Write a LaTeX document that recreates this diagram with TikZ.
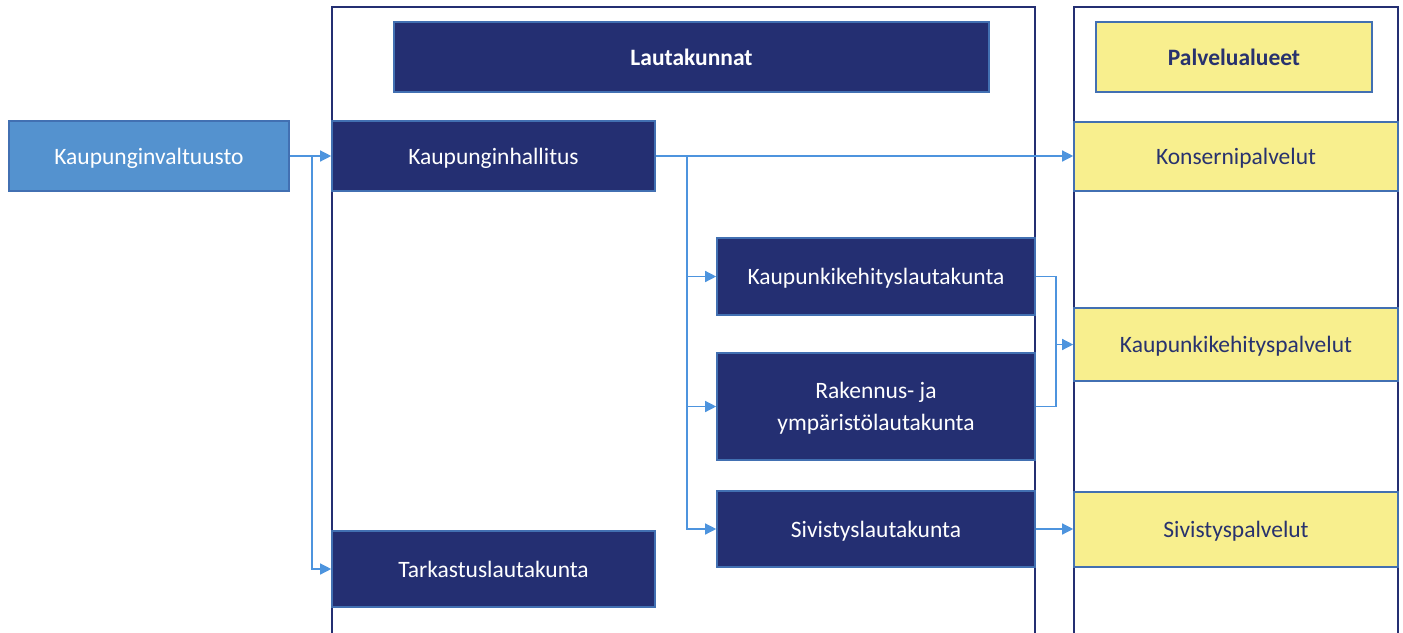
\documentclass[tikz,border=0pt]{standalone}
\usepackage{fontspec}
\setmainfont{Carlito}
\usetikzlibrary{arrows.meta}
\definecolor{navy}{RGB}{36,47,114}
\definecolor{lblue}{RGB}{84,146,207}
\definecolor{ylw}{RGB}{248,239,142}
\definecolor{bord}{RGB}{66,112,178}
\definecolor{arr}{RGB}{77,148,222}
\definecolor{ytext}{RGB}{40,50,110}
\begin{document}
\begin{tikzpicture}[x=1pt,y=-1pt,
  base/.style={draw=bord, line width=1.6pt, inner sep=2pt, align=center, text depth=-5pt, font=\fontsize{23.5}{32}\selectfont},
  navybox/.style={base, fill=navy, text=white},
  lbbox/.style={base, fill=lblue, text=white},
  ybox/.style={base, fill=ylw, text=ytext},
  framebox/.style={draw=navy, line width=2pt},
  conn/.style={draw=arr, line width=1.3pt, -{Triangle[length=11pt,width=11pt]}},
  connplain/.style={draw=arr, line width=1.3pt}]
\useasboundingbox (0,0) rectangle (1403,632);
\begin{scope}
\clip (0,0) rectangle (1403,632);
% frames
\draw[framebox] (332,7) rectangle (1035,660);
\draw[framebox] (1074,7) rectangle (1398,660);
\end{scope}
% header boxes
\node[navybox, minimum width=595pt, minimum height=70pt, font=\fontsize{23.5}{28}\selectfont\bfseries] (lauta) at (691.5,57) {Lautakunnat};
\node[ybox, minimum width=276pt, minimum height=70pt, font=\fontsize{23.5}{28}\selectfont\bfseries] (palv) at (1234,57) {Palvelualueet};
% left column
\node[lbbox, minimum width=280pt, minimum height=70pt] (kv) at (149,156) {Kaupunginvaltuusto};
\node[navybox, minimum width=323pt, minimum height=70pt] (kh) at (493.5,156) {Kaupunginhallitus};
\node[navybox, minimum width=323pt, minimum height=76pt] (tark) at (493.5,569) {Tarkastuslautakunta};
% middle column
\node[navybox, minimum width=318pt, minimum height=77pt] (kkl) at (876,276.5) {Kaupunkikehityslautakunta};
\node[navybox, minimum width=318pt, minimum height=107pt] (rak) at (876,406.5) {Rakennus- ja\\ympäristölautakunta};
\node[navybox, minimum width=318pt, minimum height=76pt] (siv) at (876,529) {Sivistyslautakunta};
% right column
\node[ybox, minimum width=324pt, minimum height=69pt] (kons) at (1236,156.5) {Konsernipalvelut};
\node[ybox, minimum width=324pt, minimum height=73pt] (kkp) at (1236,344.5) {Kaupunkikehityspalvelut};
\node[ybox, minimum width=324pt, minimum height=75pt] (sivp) at (1236,529.5) {Sivistyspalvelut};
% connectors
\coordinate (b1) at (312,156);
\coordinate (b2) at (687,156);
\coordinate (b3) at (1056,344.5);
\draw[connplain] (kv.east) -- (b1);
\draw[conn] (b1) -- (kh.west);
\draw[conn] (b1) |- (tark.west);
\draw[conn] (kh.east) -- (kh.east -| kons.west);
\draw[conn] (b2) |- (kkl.west);
\draw[conn] (b2) |- (rak.west);
\draw[conn] (b2) |- (siv.west);
\draw[connplain] (kkl.east) -| (b3);
\draw[connplain] (rak.east) -| (b3);
\draw[conn] (b3) -- (kkp.west);
\draw[conn] (siv.east) -- (siv.east -| sivp.west);
\end{tikzpicture}
\end{document}
